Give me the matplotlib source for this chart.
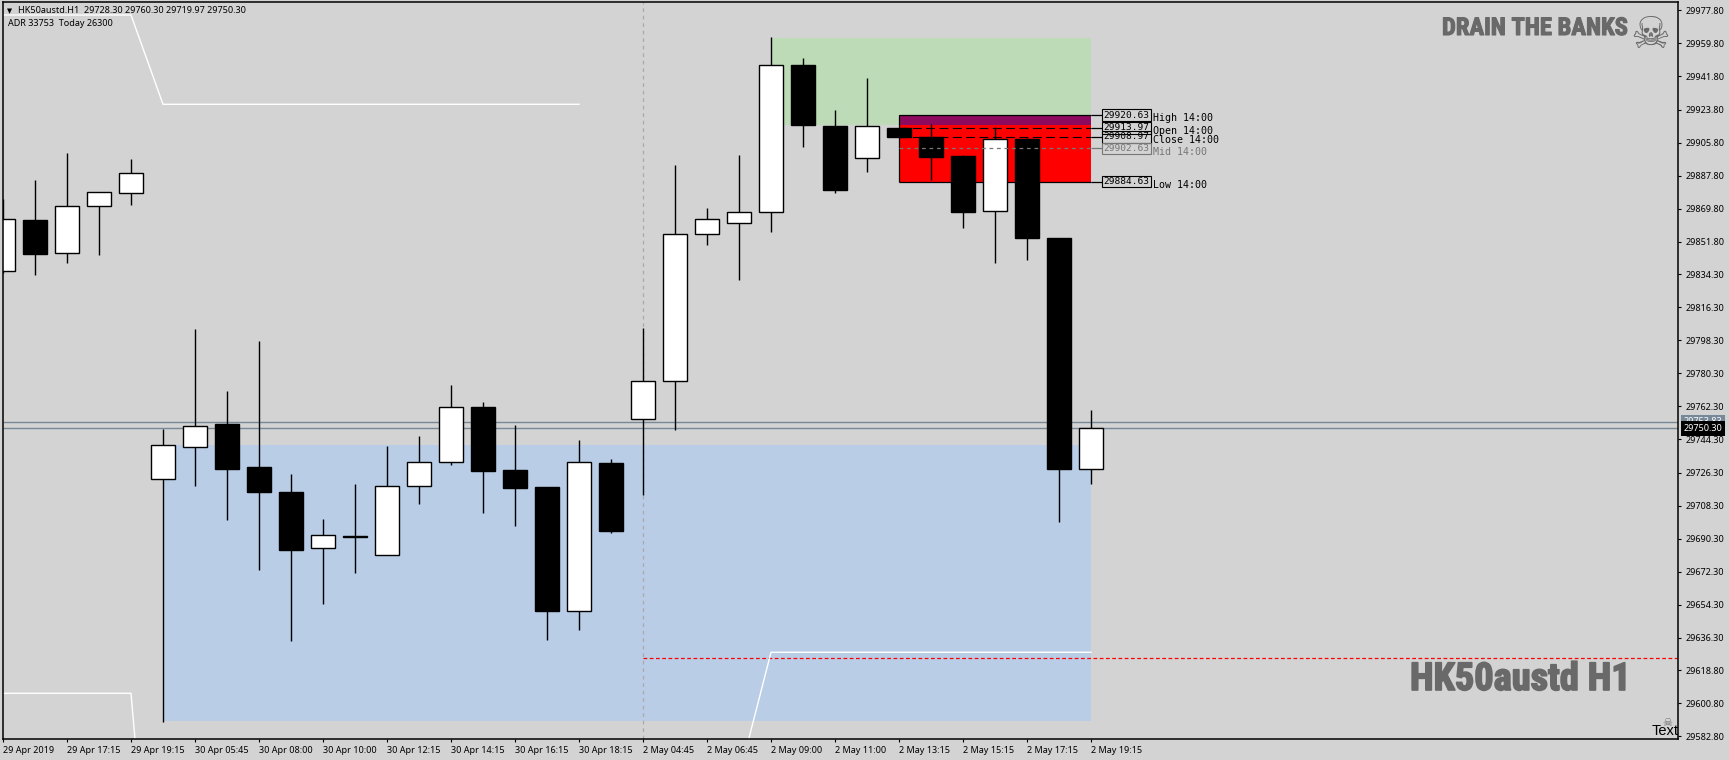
import matplotlib
matplotlib.use("Agg")
import matplotlib.pyplot as plt
import matplotlib.patheffects as pe
import numpy as np

# Dane - candles H1, O/H/L/C
opens = [29835.96, 29863.71, 29845.92, 29871.16, 29878.24, 29722.63, 29740.37, 29752.72, 29729.32, 29715.72,
         29685.42, 29692.00, 29681.61, 29718.82, 29731.88, 29761.97, 29727.69, 29718.44, 29651.14, 29731.50,
         29755.60, 29775.95, 29856.20, 29862.24, 29868.22, 29948.04, 29915.01, 29897.60, 29913.97, 29908.97,
         29898.53, 29868.82, 29907.78, 29853.80, 29728.30]
highs = [29875.13, 29885.47, 29900.00, 29879.00, 29896.90, 29750.00, 29804.40, 29770.67, 29797.88, 29725.51,
         29701.03, 29720.07, 29740.75, 29746.19, 29773.94, 29764.69, 29752.17, 29718.44, 29744.01, 29733.68,
         29804.95, 29893.42, 29870.02, 29898.80, 29963.00, 29951.63, 29923.39, 29940.80, 29913.97, 29915.94,
         29899.00, 29914.14, 29908.49, 29853.80, 29760.30]
lows = [29834.60, 29834.00, 29840.04, 29844.67, 29872.03, 29590.75, 29719.15, 29700.49, 29673.45, 29634.82,
        29654.95, 29671.82, 29681.61, 29709.36, 29730.57, 29704.46, 29697.39, 29635.36, 29640.80, 29693.58,
        29714.25, 29749.62, 29850.22, 29831.07, 29857.40, 29903.59, 29878.40, 29889.82, 29908.97, 29885.63,
        29859.19, 29840.04, 29841.84, 29699.62, 29719.97]
closes = [29864.09, 29845.37, 29871.16, 29878.78, 29889.12, 29741.13, 29751.47, 29728.40, 29715.72, 29684.33,
          29692.16, 29691.50, 29718.82, 29731.88, 29761.82, 29727.31, 29718.06, 29651.14, 29731.88, 29694.67,
          29775.95, 29856.20, 29864.04, 29868.22, 29948.04, 29915.61, 29880.20, 29915.01, 29908.97, 29898.15,
          29868.22, 29907.61, 29853.80, 29728.45, 29750.30]

price_ticks = [29977.80, 29959.80, 29941.80, 29923.80, 29905.80, 29887.80, 29869.80, 29851.80, 29834.30, 29816.30,
               29798.30, 29780.30, 29762.30, 29744.30, 29726.30, 29708.30, 29690.30, 29672.30, 29654.30, 29636.30,
               29618.80, 29600.80, 29582.80]
time_labels = ["29 Apr 2019", "29 Apr 17:15", "29 Apr 19:15", "30 Apr 05:45", "30 Apr 08:00", "30 Apr 10:00",
               "30 Apr 12:15", "30 Apr 14:15", "30 Apr 16:15", "30 Apr 18:15", "2 May 04:45", "2 May 06:45",
               "2 May 09:00", "2 May 11:00", "2 May 13:15", "2 May 15:15", "2 May 17:15", "2 May 19:15"]

# poziomy 14:00
level_names = ["High 14:00", "Open 14:00", "Close 14:00", "Mid 14:00", "Low 14:00"]
level_prices = [29920.63, 29913.97, 29908.97, 29902.63, 29884.63]
level_colors = ["black", "black", "black", "#777777", "black"]

# strefy: (bar od, bar do, cena dol, cena gora)
blue_zone = (5, 34, 29591.1, 29741.3)
green_zone = (24, 34, 29915.6, 29962.7)
red_zone = (28, 34, 29884.63, 29920.63)
purple_low = 29915.6

# biale linie
white1_x = [0, 4, 5, 18]
white1_y = [29975.24, 29975.24, 29926.66, 29926.66]
white2_x = [0, 4, 5]
white2_y = [29606.2, 29606.2, 29406.0]
white3_x = [23, 24, 34]
white3_y = [29560.7, 29628.51, 29628.51]

bid_price = 29750.30
ask_price = 29753.83
red_line_price = 29625.24
now_bar = 20

W, H = 1729, 760
BG = "#D3D3D3"
plt.rcParams["font.family"] = ["Noto Sans", "DejaVu Sans"]

fig = plt.figure(figsize=(W / 100, H / 100), dpi=100, facecolor=BG)
# os: lewa 3 px, prawa 1678 px, gora 2.3 px, dol 739.3 px
ax = fig.add_axes([3 / W, 1 - 739.3 / H, 1675 / W, 737 / H], facecolor=BG)
ax.set_xlim(0, 1675 / 32)
ax.set_ylim(29581.17, 29982.15)


def zone(z, color, zorder=1):
    ax.fill_between([z[0], z[1]], z[2], z[3], color=color, lw=0, zorder=zorder)


zone(blue_zone, "#B9CDE6")
zone(green_zone, "#BDDBB6")
zone(red_zone, "#FF0000", 1.1)
zone((red_zone[0], red_zone[1], purple_low, red_zone[3]), "#8E0A5E", 1.2)

ax.hlines([ask_price, bid_price], 0, 1675 / 32, color="#778899", lw=1, zorder=1.5)
ax.axvline(now_bar, color="#AAAAAA", lw=0.9, ls=(0, (3, 3)), zorder=1.5)
ax.hlines(red_line_price, now_bar, 1675 / 32, color="#FF0000", lw=0.9, ls=(0, (3, 2)), zorder=1.6)

for xs, ys in [(white1_x, white1_y), (white2_x, white2_y), (white3_x, white3_y)]:
    ax.plot(xs, ys, color="white", lw=1, zorder=1.7)

# Swiece
x = np.arange(len(opens))
o = np.array(opens)
c = np.array(closes)
colors = ["white" if c[i] >= o[i] else "black" for i in x]
ax.vlines(x, lows, highs, color="black", lw=1, zorder=3)
ax.bar(x, np.abs(c - o), bottom=np.minimum(o, c), width=0.75, color=colors,
       edgecolor="black", linewidth=1, zorder=4)

# Linie poziomow i etykiety
label_x = 1102.3 / 32 - 3 / 32
for name, price, col in zip(level_names, level_prices, level_colors):
    if name.startswith("High") or name.startswith("Low"):
        ax.hlines(price, red_zone[0], red_zone[1], color="black", lw=0.9, zorder=2)
    elif name.startswith("Mid"):
        ax.hlines(price, red_zone[0], red_zone[1], color=col, lw=0.9, ls=(0, (3, 3)), zorder=5)
    else:
        ax.hlines(price, red_zone[0], red_zone[1], color="black", lw=0.8, ls=(0, (8, 4)), zorder=2.5)
    ax.hlines(price, red_zone[1], label_x, color=col, lw=0.9, zorder=2)
    ax.text(label_x + 0.03, price, f"{price:.2f}", family="DejaVu Sans Mono", fontsize=6.8, color=col,
            va="center", ha="left", zorder=6,
            bbox=dict(boxstyle="square,pad=0.15", fc="none", ec=col, lw=0.8))
    ax.annotate(name, (35.95, price), xytext=(0, -2.2), textcoords="offset points", family="DejaVu Sans Mono",
                fontsize=7.2, color=col, va="center", ha="left", zorder=6)
ax.vlines(red_zone[0], red_zone[2], red_zone[3], color="black", lw=0.9, zorder=2)

# Osie
for s in ax.spines.values():
    s.set_linewidth(1.1)
    s.set_color("black")
    s.set_zorder(10)
ax.set_xticks(np.arange(len(time_labels)) * 2)
ax.set_xticklabels(time_labels, ha="left", fontsize=6.5, color="black")
ax.yaxis.tick_right()
ax.set_yticks(price_ticks)
ax.set_yticklabels([f"{p:.2f}" for p in price_ticks], fontsize=6.5, color="black")
ax.tick_params(axis="x", length=2.5, width=0.8, pad=2.2)
ax.tick_params(axis="y", length=2.5, width=0.8, pad=2.6)

# Ceny po prawej
ytrans = ax.get_yaxis_transform()
ax.text(1.0036, ask_price, f"{ask_price:.2f}", transform=ytrans, fontsize=6.5, color="white", va="center",
        clip_on=False, zorder=11, bbox=dict(boxstyle="square,pad=0.3", fc="#778899", ec="none"))
ax.text(1.0036, bid_price, f"{bid_price:.2f}", transform=ytrans, fontsize=6.5, color="white", va="center",
        clip_on=False, zorder=12, bbox=dict(boxstyle="square,pad=0.3", fc="black", ec="none"))


# Napisy
def txt(px, py, s, **kw):
    return fig.text(px / W, 1 - py / H, s, **kw)


def fit_width(t, width_px):
    # dopasowanie rozmiaru fontu do szerokosci napisu w pikselach
    w = t.get_window_extent(fig.canvas.get_renderer()).width
    t.set_fontsize(t.get_fontsize() * width_px / w)


txt(6.5, 10.7, "\u25BC", family="DejaVu Sans", fontsize=4.8, va="center", color="black")
txt(18, 10.7, "HK50austd.H1  29728.30 29760.30 29719.97 29750.30", fontsize=6.5, va="center", color="black")
txt(7.5, 24, "ADR 33753  Today 26300", fontsize=6.5, va="center", color="black")

grey = "#696969"
narrow = ["Roboto Condensed", "Open Sans Condensed", "Liberation Sans"]
t1 = txt(1442, 35, "DRAIN THE BANKS", family=narrow, weight="bold", fontsize=16, color=grey, va="baseline",
         path_effects=[pe.withStroke(linewidth=0.8, foreground=grey)])
fit_width(t1, 186)
t2 = txt(1410, 690, "HK50austd H1", family=narrow, weight="bold", fontsize=25, color=grey, va="baseline",
         path_effects=[pe.withStroke(linewidth=1.2, foreground=grey)])
fit_width(t2, 221)
txt(1650.5, 36, "\u2620", family="DejaVu Sans", fontsize=32, color=grey, va="center", ha="center")
txt(1667, 723, "\u2620", family="DejaVu Sans", fontsize=8, color=grey, va="center", ha="center")
txt(1652, 731, "Text", family="Liberation Sans", fontsize=10.5, color="black", va="center")

fig.savefig("out.png", dpi=100, facecolor=BG)
